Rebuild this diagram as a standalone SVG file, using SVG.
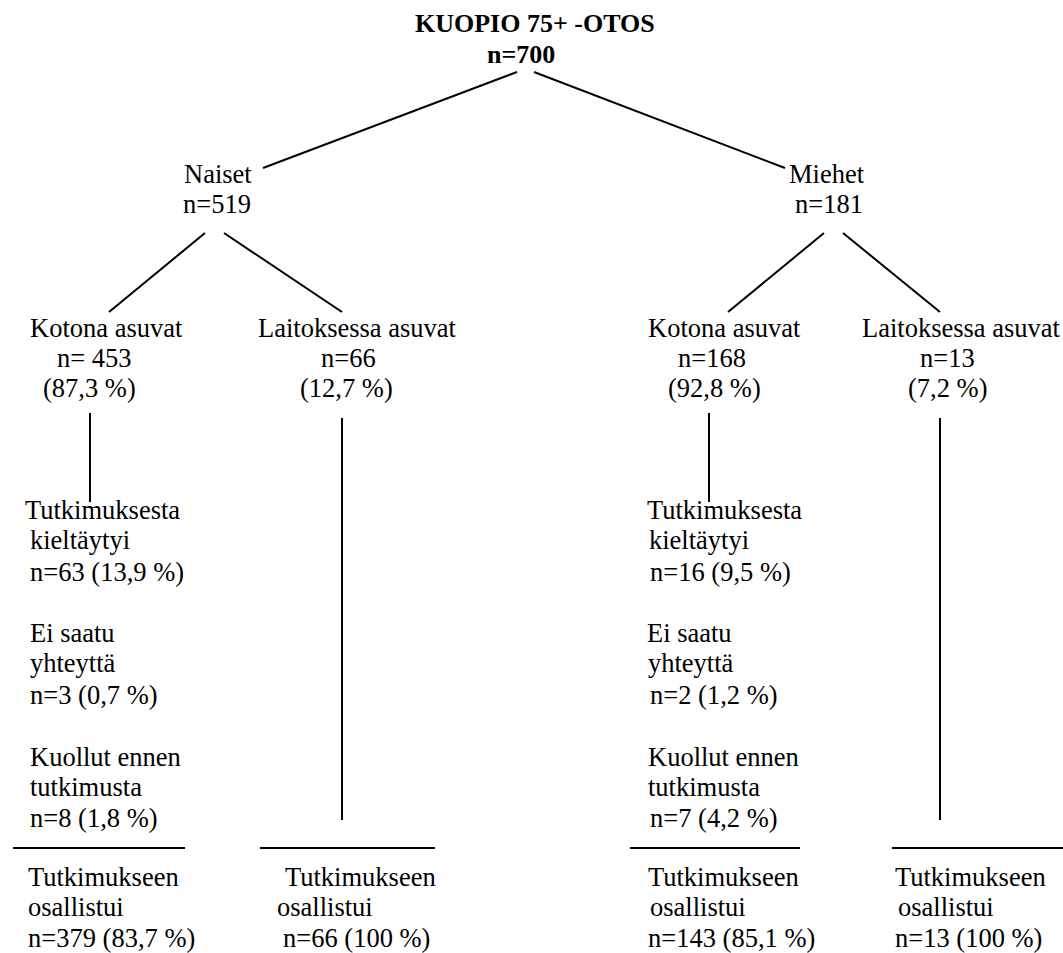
<svg xmlns="http://www.w3.org/2000/svg" width="1063" height="953" viewBox="0 0 1063 953">
<style>
text{font-family:"Liberation Serif","Times New Roman",serif;font-size:26.5px;fill:#000}
.b{font-weight:bold;font-size:26px}
line{stroke:#000;stroke-width:2;stroke-linecap:butt}
</style>
<rect width="1063" height="953" fill="#fff"/>
<g id="connectors">
<line x1="517" y1="72" x2="263" y2="168"/>
<line x1="534" y1="72" x2="785" y2="168"/>
<line x1="205" y1="233" x2="109" y2="312"/>
<line x1="224" y1="233" x2="342" y2="312"/>
<line x1="824" y1="233" x2="728" y2="312"/>
<line x1="843" y1="233" x2="940" y2="312"/>
<line x1="90" y1="413" x2="90" y2="502"/>
<line x1="342" y1="418" x2="342" y2="820"/>
<line x1="709" y1="413" x2="709" y2="502"/>
<line x1="940" y1="418" x2="940" y2="820"/>
<line x1="13" y1="848" x2="185" y2="848"/>
<line x1="260" y1="848" x2="435" y2="848"/>
<line x1="630" y1="848" x2="800" y2="848"/>
<line x1="892" y1="848" x2="1063" y2="848"/>
</g>
<g id="root"><text class="b" x="415" y="32">KUOPIO 75+ -OTOS</text><text class="b" x="487" y="63">n=700</text></g>
<g id="naiset"><text x="184" y="183">Naiset</text><text x="183" y="213">n=519</text></g>
<g id="miehet"><text x="789" y="183">Miehet</text><text x="795" y="213">n=181</text></g>
<g id="n-kotona"><text x="30" y="337">Kotona asuvat</text><text x="57" y="367">n= 453</text><text x="43" y="397">(87,3 %)</text></g>
<g id="n-laitos"><text x="258" y="337">Laitoksessa asuvat</text><text x="321" y="367">n=66</text><text x="300" y="397">(12,7 %)</text></g>
<g id="m-kotona"><text x="648" y="337">Kotona asuvat</text><text x="678" y="367">n=168</text><text x="668" y="397">(92,8 %)</text></g>
<g id="m-laitos"><text x="862" y="337">Laitoksessa asuvat</text><text x="920" y="367">n=13</text><text x="908" y="397">(7,2 %)</text></g>
<g id="n-drop"><text x="25" y="519">Tutkimuksesta</text><text x="30" y="549">kieltäytyi</text><text x="30" y="581">n=63 (13,9 %)</text>
<text x="30" y="642">Ei saatu</text><text x="30" y="672">yhteyttä</text><text x="30" y="704">n=3 (0,7 %)</text>
<text x="30" y="766">Kuollut ennen</text><text x="30" y="796">tutkimusta</text><text x="30" y="827">n=8 (1,8 %)</text></g>
<g id="m-drop"><text x="647" y="519">Tutkimuksesta</text><text x="649" y="549">kieltäytyi</text><text x="650" y="581">n=16 (9,5 %)</text>
<text x="647" y="642">Ei saatu</text><text x="648" y="672">yhteyttä</text><text x="650" y="704">n=2 (1,2 %)</text>
<text x="648" y="766">Kuollut ennen</text><text x="648" y="796">tutkimusta</text><text x="650" y="827">n=7 (4,2 %)</text></g>
<g id="n-kotona-osall"><text x="28" y="886">Tutkimukseen</text><text x="28" y="916">osallistui</text><text x="28" y="947">n=379 (83,7 %)</text></g>
<g id="n-laitos-osall"><text x="285" y="886">Tutkimukseen</text><text x="277" y="916">osallistui</text><text x="283" y="947">n=66 (100 %)</text></g>
<g id="m-kotona-osall"><text x="648" y="886">Tutkimukseen</text><text x="650" y="916">osallistui</text><text x="648" y="947">n=143 (85,1 %)</text></g>
<g id="m-laitos-osall"><text x="895" y="886">Tutkimukseen</text><text x="898" y="916">osallistui</text><text x="895" y="947">n=13 (100 %)</text></g>
</svg>
